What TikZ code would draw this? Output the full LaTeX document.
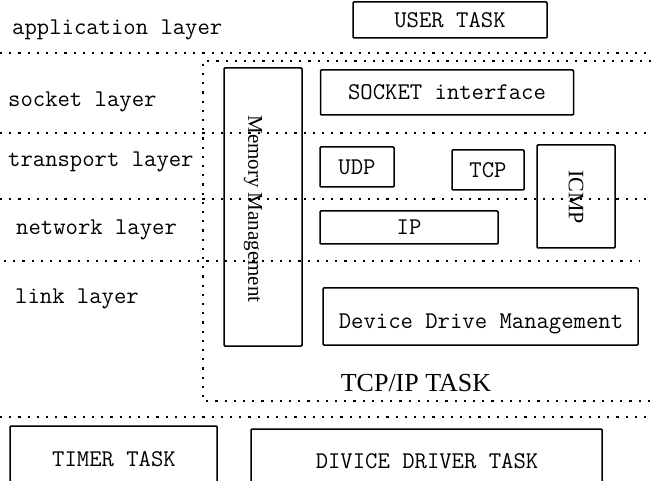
\documentclass[tikz,border=0pt]{standalone}
\usepackage{fontspec}
\setmainfont{Liberation Serif}
\begin{document}
\begin{tikzpicture}[x=1pt,y=-1pt,
  box/.style={draw=black, line width=1.5pt, rounded corners=1pt, inner sep=0pt},
  mono/.style={font=\ttfamily\fontsize{24}{24}\selectfont, inner sep=0pt},
  serif/.style={font=\fontsize{21}{21}\selectfont, inner sep=0pt},
  layer/.style={mono, anchor=base west},
  dotline/.style={line width=2.2pt, dash pattern=on 2.2pt off 7pt, line cap=butt}]
\useasboundingbox (0,0) rectangle (651,481);
\clip (0,0) rectangle (651,481);

% layer dividers
\draw[dotline] (0,53) -- (651,53);
\draw[dotline] (0,133) -- (651,133);
\draw[dotline] (0,199) -- (651,199);
\draw[dotline] (4,261) -- (640,261);
\draw[dotline] (0,417) -- (651,417);

% TCP/IP task frame
\draw[dotline] (651,61) -- (203,61) -- (203,401) -- (651,401);

% layer names
\node[layer] (lapp) at (12,35) {application layer};
\node[layer] (lsock) at (8,107) {socket layer};
\node[layer] (ltrans) at (8,167) {transport layer};
\node[layer] (lnet) at (16,235) {network layer};
\node[layer] (llink) at (15,303) {link layer};

% application layer
\node[box, mono, minimum width=194pt, minimum height=36pt] (user) at (450,20) {USER TASK};

% TCP/IP stack
\node[box, minimum width=78pt, minimum height=278pt] (mem) at (263,207) {};
\node[serif, rotate=-90] (memtext) at (253,209) {Memory Management};
\node[box, mono, minimum width=253pt, minimum height=45pt] (sock) at (447,92.5) {SOCKET interface};
\node[box, mono, minimum width=74pt, minimum height=40pt] (udp) at (357,167) {UDP};
\node[box, mono, minimum width=72pt, minimum height=40pt] (tcp) at (488,170) {TCP};
\node[box, minimum width=78pt, minimum height=103pt] (icmp) at (576,196.5) {};
\node[serif, font=\fontsize{22}{22}\selectfont, rotate=-90] (icmptext) at (576,197) {ICMP};
\node[box, mono, minimum width=178pt, minimum height=33pt] (ip) at (409,227.5) {IP};
\node[box, minimum width=315pt, minimum height=57pt] (dev) at (480.5,316.5) {};
\node[mono] (devtext) at (481,324) {Device Drive Management};
\node[font=\fontsize{26}{26}\selectfont, inner sep=0pt] (tcpip) at (416,383) {TCP/IP TASK};

% tasks below the stack
\node[box, minimum width=207pt, minimum height=90pt] (timer) at (113.5,471) {};
\node[mono] (timertext) at (114,459) {TIMER TASK};
\node[box, minimum width=351pt, minimum height=90pt] (drv) at (426.5,474) {};
\node[mono] (drvtext) at (427,461) {DIVICE DRIVER TASK};
\end{tikzpicture}
\end{document}
